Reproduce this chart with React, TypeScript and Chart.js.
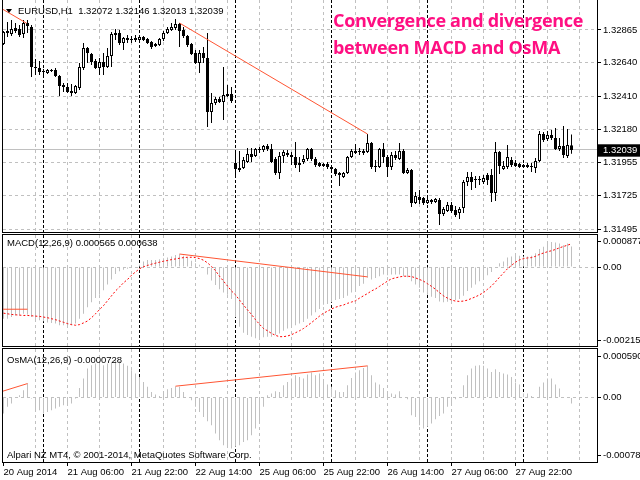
import React, { useEffect, useRef } from 'react';
import { Chart, registerables } from 'chart.js';

Chart.register(...registerables);

// ---------------- data (EURUSD H1, bar index 0..142) ----------------
const opens = [
  1.32769, 1.32858, 1.32837, 1.32879, 1.32872, 1.32837, 1.32913, 1.32886, 1.32610, 1.32603,
  1.32583, 1.32569, 1.32590, 1.32590, 1.32548, 1.32486, 1.32473, 1.32445, 1.32431, 1.32466,
  1.32603, 1.32741, 1.32700, 1.32652, 1.32603, 1.32645, 1.32610, 1.32686, 1.32844, 1.32844,
  1.32776, 1.32810, 1.32803, 1.32796, 1.32796, 1.32817, 1.32803, 1.32782, 1.32755, 1.32762,
  1.32803, 1.32844, 1.32865, 1.32879, 1.32906, 1.32865, 1.32824, 1.32769, 1.32707, 1.32638,
  1.32707, 1.32672, 1.32301, 1.32362, 1.32390, 1.32369, 1.32424, 1.32424, 1.31949, 1.31901,
  1.31915, 1.31956, 1.32011, 1.31998, 1.32039, 1.32039, 1.32066, 1.32046, 1.31977, 1.31881,
  1.31998, 1.32018, 1.32005, 1.31991, 1.31936, 1.31956, 1.31977, 1.32046, 1.31977, 1.31949,
  1.31929, 1.31943, 1.31922, 1.31908, 1.31881, 1.31853, 1.31881, 1.31991, 1.32032, 1.32032,
  1.32032, 1.32025, 1.32087, 1.31929, 1.31922, 1.32046, 1.31991, 1.31922, 1.32005, 1.31977,
  1.32032, 1.31881, 1.31901, 1.31674, 1.31715, 1.31709, 1.31674, 1.31695, 1.31681, 1.31695,
  1.31598, 1.31619, 1.31660, 1.31626, 1.31605, 1.31640, 1.31819, 1.31853, 1.31839, 1.31832,
  1.31819, 1.31867, 1.31867, 1.31743, 1.32025, 1.31908, 1.31922, 1.31970, 1.31949, 1.31943,
  1.31922, 1.31936, 1.31929, 1.31915, 1.31963, 1.32149, 1.32115, 1.32142, 1.32122, 1.32046,
  1.32066, 1.31998, 1.32072,
];
const highs = [
  1.32858, 1.32920, 1.32934, 1.32913, 1.32899, 1.32934, 1.32934, 1.32899, 1.32665, 1.32652,
  1.32597, 1.32597, 1.32597, 1.32603, 1.32555, 1.32500, 1.32500, 1.32493, 1.32486, 1.32638,
  1.32776, 1.32748, 1.32707, 1.32665, 1.32672, 1.32707, 1.32741, 1.32851, 1.32872, 1.32865,
  1.32817, 1.32831, 1.32824, 1.32831, 1.32831, 1.32824, 1.32810, 1.32789, 1.32776, 1.32810,
  1.32858, 1.32886, 1.32913, 1.32941, 1.32913, 1.32886, 1.32831, 1.32776, 1.32727, 1.32727,
  1.32748, 1.32844, 1.32431, 1.32404, 1.32404, 1.32610, 1.32486, 1.32473, 1.32032, 1.32032,
  1.31991, 1.32053, 1.32053, 1.32053, 1.32060, 1.32073, 1.32080, 1.32080, 1.31991, 1.32025,
  1.32039, 1.32039, 1.32025, 1.32094, 1.31991, 1.32005, 1.32053, 1.32053, 1.31991, 1.31956,
  1.31949, 1.31956, 1.31936, 1.31915, 1.31888, 1.31888, 1.31998, 1.32046, 1.32080, 1.32053,
  1.32046, 1.32149, 1.32094, 1.31970, 1.32053, 1.32087, 1.32005, 1.32025, 1.32032, 1.32087,
  1.32046, 1.31915, 1.31908, 1.31750, 1.31764, 1.31715, 1.31722, 1.31702, 1.31709, 1.31709,
  1.31647, 1.31681, 1.31681, 1.31653, 1.31647, 1.31832, 1.31888, 1.31888, 1.31860, 1.31860,
  1.31867, 1.31881, 1.31908, 1.32094, 1.32032, 1.31963, 1.32073, 1.31991, 1.31970, 1.31949,
  1.31943, 1.31949, 1.31949, 1.31984, 1.32170, 1.32163, 1.32170, 1.32177, 1.32190, 1.32122,
  1.32204, 1.32183, 1.32146,
];
const lows = [
  1.32762, 1.32817, 1.32824, 1.32844, 1.32817, 1.32810, 1.32844, 1.32541, 1.32555, 1.32555,
  1.32555, 1.32562, 1.32576, 1.32541, 1.32411, 1.32438, 1.32431, 1.32411, 1.32424, 1.32452,
  1.32590, 1.32638, 1.32624, 1.32597, 1.32555, 1.32555, 1.32603, 1.32610, 1.32796, 1.32762,
  1.32727, 1.32776, 1.32776, 1.32782, 1.32789, 1.32789, 1.32769, 1.32734, 1.32748, 1.32755,
  1.32789, 1.32837, 1.32858, 1.32865, 1.32748, 1.32810, 1.32748, 1.32693, 1.32631, 1.32569,
  1.32638, 1.32197, 1.32225, 1.32349, 1.32362, 1.32245, 1.32404, 1.32362, 1.31846, 1.31887,
  1.31908, 1.31949, 1.31956, 1.31991, 1.32018, 1.32025, 1.32032, 1.31949, 1.31867, 1.31839,
  1.31949, 1.31991, 1.31936, 1.31915, 1.31888, 1.31943, 1.31963, 1.31963, 1.31922, 1.31922,
  1.31922, 1.31908, 1.31888, 1.31860, 1.31791, 1.31846, 1.31874, 1.31984, 1.32011, 1.32005,
  1.32005, 1.32018, 1.31908, 1.31888, 1.31915, 1.31949, 1.31853, 1.31901, 1.31970, 1.31970,
  1.31874, 1.31874, 1.31647, 1.31667, 1.31667, 1.31660, 1.31667, 1.31667, 1.31674, 1.31523,
  1.31585, 1.31612, 1.31605, 1.31578, 1.31564, 1.31605, 1.31791, 1.31764, 1.31777, 1.31798,
  1.31805, 1.31798, 1.31681, 1.31688, 1.31874, 1.31901, 1.31908, 1.31922, 1.31922, 1.31915,
  1.31915, 1.31915, 1.31888, 1.31881, 1.31956, 1.32094, 1.32101, 1.32108, 1.32039, 1.32032,
  1.31984, 1.31984, 1.32013,
];
const closes = [
  1.32851, 1.32844, 1.32872, 1.32858, 1.32831, 1.32913, 1.32893, 1.32610, 1.32603, 1.32576,
  1.32576, 1.32590, 1.32583, 1.32548, 1.32480, 1.32473, 1.32438, 1.32431, 1.32480, 1.32610,
  1.32741, 1.32707, 1.32645, 1.32603, 1.32645, 1.32610, 1.32686, 1.32837, 1.32831, 1.32776,
  1.32810, 1.32796, 1.32796, 1.32810, 1.32817, 1.32796, 1.32776, 1.32748, 1.32769, 1.32803,
  1.32844, 1.32872, 1.32886, 1.32906, 1.32858, 1.32824, 1.32762, 1.32700, 1.32638, 1.32707,
  1.32672, 1.32301, 1.32362, 1.32390, 1.32369, 1.32418, 1.32411, 1.32376, 1.31908, 1.31915,
  1.31970, 1.32011, 1.31991, 1.32046, 1.32046, 1.32066, 1.32046, 1.31956, 1.31881, 1.31998,
  1.32025, 1.32005, 1.31991, 1.31936, 1.31949, 1.31977, 1.32046, 1.31977, 1.31936, 1.31929,
  1.31943, 1.31922, 1.31908, 1.31874, 1.31867, 1.31881, 1.31991, 1.32032, 1.32018, 1.32025,
  1.32018, 1.32087, 1.31922, 1.31922, 1.32046, 1.31991, 1.31922, 1.32005, 1.31984, 1.32032,
  1.31881, 1.31901, 1.31674, 1.31722, 1.31695, 1.31674, 1.31695, 1.31681, 1.31702, 1.31598,
  1.31633, 1.31660, 1.31619, 1.31592, 1.31633, 1.31819, 1.31853, 1.31819, 1.31832, 1.31839,
  1.31846, 1.31832, 1.31743, 1.32025, 1.31929, 1.31929, 1.31991, 1.31936, 1.31929, 1.31922,
  1.31936, 1.31922, 1.31922, 1.31963, 1.32149, 1.32108, 1.32142, 1.32122, 1.32046, 1.32066,
  1.32005, 1.32073, 1.32039,
];

const macdMain = [
  -0.001411, -0.001411, -0.001366, -0.001322, -0.001322, -0.001277, -0.001295, -0.001366, -0.001438, -0.001456,
  -0.001482, -0.001518, -0.001527, -0.001545, -0.001590, -0.001590, -0.001590, -0.001590, -0.001545, -0.001411,
  -0.001277, -0.001098, -0.000964, -0.000848, -0.000759, -0.000634, -0.000473, -0.000339, -0.000188, -0.000116,
  -0.000071, -0.000045, -0.000027, -0.000009, 0.000063, 0.000152, 0.000196, 0.000196, 0.000196, 0.000214,
  0.000241, 0.000259, 0.000286, 0.000330, 0.000348, 0.000313, 0.000259, 0.000170, 0.000107, 0.000063,
  -0.000027, -0.000205, -0.000366, -0.000491, -0.000607, -0.000697, -0.000759, -0.000875, -0.001366, -0.001634,
  -0.001795, -0.001857, -0.001902, -0.001947, -0.001947, -0.001920, -0.001902, -0.001902, -0.001857, -0.001813,
  -0.001741, -0.001679, -0.001616, -0.001590, -0.001545, -0.001500, -0.001411, -0.001322, -0.001232, -0.001143,
  -0.001027, -0.001009, -0.000964, -0.000902, -0.000875, -0.000848, -0.000786, -0.000697, -0.000607, -0.000518,
  -0.000455, -0.000290, -0.000339, -0.000295, -0.000250, -0.000205, -0.000223, -0.000205, -0.000205, -0.000205,
  -0.000250, -0.000277, -0.000384, -0.000473, -0.000563, -0.000697, -0.000759, -0.000813, -0.000848, -0.000938,
  -0.000964, -0.000947, -0.000920, -0.000902, -0.000875, -0.000786, -0.000652, -0.000563, -0.000473, -0.000384,
  -0.000313, -0.000223, -0.000134, -0.000009, 0.000107, 0.000152, 0.000259, 0.000286, 0.000313, 0.000313,
  0.000286, 0.000286, 0.000313, 0.000375, 0.000491, 0.000554, 0.000643, 0.000688, 0.000670, 0.000643,
  0.000598, 0.000643, 0.000565,
];
const macdSignal = [
  -0.001259, -0.001277, -0.001295, -0.001304, -0.001313, -0.001322, -0.001322, -0.001331, -0.001340, -0.001348,
  -0.001366, -0.001384, -0.001411, -0.001438, -0.001473, -0.001509, -0.001545, -0.001572, -0.001590, -0.001572,
  -0.001527, -0.001473, -0.001384, -0.001277, -0.001161, -0.001054, -0.000920, -0.000786, -0.000652, -0.000545,
  -0.000429, -0.000339, -0.000223, -0.000134, -0.000045, 0.000009, 0.000045, 0.000080, 0.000107, 0.000134,
  0.000161, 0.000179, 0.000205, 0.000223, 0.000241, 0.000259, 0.000268, 0.000268, 0.000259, 0.000232,
  0.000188, 0.000116, 0.000018, -0.000098, -0.000250, -0.000384, -0.000518, -0.000652, -0.000759, -0.000902,
  -0.001036, -0.001170, -0.001295, -0.001438, -0.001563, -0.001679, -0.001741, -0.001813, -0.001866, -0.001902,
  -0.001902, -0.001884, -0.001849, -0.001795, -0.001741, -0.001679, -0.001598, -0.001518, -0.001429, -0.001340,
  -0.001259, -0.001206, -0.001143, -0.001098, -0.001063, -0.001036, -0.000991, -0.000956, -0.000920, -0.000848,
  -0.000786, -0.000723, -0.000652, -0.000598, -0.000527, -0.000455, -0.000384, -0.000321, -0.000295, -0.000268,
  -0.000250, -0.000250, -0.000259, -0.000295, -0.000339, -0.000384, -0.000455, -0.000527, -0.000607, -0.000697,
  -0.000786, -0.000848, -0.000902, -0.000929, -0.000938, -0.000929, -0.000902, -0.000857, -0.000813, -0.000759,
  -0.000697, -0.000607, -0.000518, -0.000402, -0.000277, -0.000161, -0.000045, 0.000045, 0.000134, 0.000196,
  0.000232, 0.000250, 0.000259, 0.000295, 0.000348, 0.000384, 0.000420, 0.000447, 0.000482, 0.000527,
  0.000563, 0.000598, 0.000638,
];
const osmaValues = [
  -0.000194, -0.000113, -0.000073, -0.000004, 0.000028, 0.000089, 0.000170, -0.000012, -0.000174, -0.000154,
  -0.000194, -0.000174, -0.000154, -0.000134, -0.000113, -0.000093, -0.000085, -0.000073, -0.000012, 0.000117,
  0.000231, 0.000352, 0.000393, 0.000413, 0.000413, 0.000393, 0.000413, 0.000433, 0.000454, 0.000441,
  0.000413, 0.000385, 0.000332, 0.000292, 0.000251, 0.000190, 0.000130, 0.000069, 0.000036, 0.000020,
  0.000069, 0.000101, 0.000117, 0.000134, 0.000130, 0.000069, 0.000008, -0.000032, -0.000113, -0.000174,
  -0.000235, -0.000288, -0.000336, -0.000437, -0.000518, -0.000579, -0.000599, -0.000620, -0.000599, -0.000579,
  -0.000539, -0.000518, -0.000458, -0.000377, -0.000316, -0.000113, 0.000028, 0.000049, 0.000077, 0.000069,
  0.000150, 0.000190, 0.000231, 0.000271, 0.000251, 0.000231, 0.000279, 0.000304, 0.000271, 0.000292,
  0.000211, 0.000158, 0.000130, 0.000089, 0.000069, 0.000069, 0.000150, 0.000239, 0.000304, 0.000332,
  0.000360, 0.000385, 0.000271, 0.000182, 0.000158, 0.000117, 0.000069, 0.000049, 0.000036, 0.000077,
  0.000008, -0.000020, -0.000215, -0.000235, -0.000336, -0.000377, -0.000356, -0.000316, -0.000263, -0.000223,
  -0.000194, -0.000113, -0.000073, -0.000020, -0.000004, 0.000150, 0.000271, 0.000352, 0.000385, 0.000393,
  0.000385, 0.000352, 0.000312, 0.000344, 0.000312, 0.000292, 0.000279, 0.000251, 0.000182, 0.000158,
  0.000049, 0.000049, 0.000020, 0.000008, 0.000130, 0.000182, 0.000231, 0.000231, 0.000158, 0.000109,
  0.000008, -0.000004, -0.0000728,
];

// axis ticks and labels
const priceTickValues = [1.32865, 1.3264, 1.3241, 1.3218, 1.31955, 1.31725, 1.31495];
const priceTickLabels = ['1.32865', '1.32640', '1.32410', '1.32180', '1.31955', '1.31725', '1.31495'];
const lastPrice = 1.32039;
const lastPriceLabel = '1.32039';
const macdTickValues = [0.000877, 0, -0.002157];
const macdTickLabels = ['0.000877', '0.00', '-0.002157'];
const osmaTickValues = [0.00059, 0, -0.000783];
const osmaTickLabels = ['0.000590', '0.00', '-0.000783'];
const timeTickBars = [0, 16, 32, 48, 64, 80, 96, 112, 128];
const timeTickLabels = [
  '20 Aug 2014', '21 Aug 06:00', '21 Aug 22:00', '22 Aug 14:00', '25 Aug 06:00',
  '25 Aug 22:00', '26 Aug 14:00', '27 Aug 06:00', '27 Aug 22:00',
];
const gridBars = [8, 16, 24, 32, 40, 48, 56, 64, 72, 80, 88, 96, 104, 112, 120, 128, 136, 144];
const daySeparatorBars = [10, 34, 58, 82, 106, 130];

// trend lines: [bar index, value]
const priceTrendA = [[-0.2, 1.33008], [5.8, 1.32911]];
const priceTrendB = [[44, 1.32913], [91, 1.32149]];
const macdTrendA = [[-0.2, -0.001152], [6, -0.001152]];
const macdTrendB = [[44, 0.000357], [91, -0.000268]];
const osmaTrendA = [[-0.2, 0.000077], [6, 0.00017]];
const osmaTrendB = [[43, 0.000138], [91, 0.000385]];

// ---------------- chart setup ----------------
const PRICE_MIN = 1.314744;
const PRICE_MAX = 1.330715;
const X_MIN = -0.125;
const X_MAX = 148.375;
const FONT = { family: 'Liberation Sans, Arial, sans-serif', size: 9.5 };
const GRID = '#c0c0c0';
const TREND = '#ff5533';
const CLEAR = 'rgba(0,0,0,0)';

const xTickBars = Array.from(new Set([0, ...gridBars, ...daySeparatorBars])).sort((a, b) => a - b);

function xScale(withLabels: boolean) {
  return {
    type: 'linear',
    position: 'bottom',
    min: X_MIN,
    max: X_MAX,
    offset: false,
    afterBuildTicks: (s: any) => { s.ticks = xTickBars.map((v) => ({ value: v })); },
    afterFit: (s: any) => { s.height = withLabels ? 18 : 0; s.paddingLeft = 0; s.paddingRight = 0; },
    border: {
      display: false,
      dash: (c: any) => (c.tick && daySeparatorBars.includes(c.tick.value) ? [3, 2] : [3, 3]),
    },
    grid: {
      offset: false,
      drawOnChartArea: true,
      drawTicks: withLabels,
      tickLength: 4,
      lineWidth: 1,
      color: (c: any) => {
        const v = c.tick ? c.tick.value : -1;
        if (daySeparatorBars.includes(v)) return '#000';
        if (gridBars.includes(v)) return GRID;
        return CLEAR;
      },
      tickColor: (c: any) => (c.tick && timeTickBars.includes(c.tick.value) ? '#000' : CLEAR),
      tickBorderDash: [],
    },
    ticks: {
      display: withLabels,
      autoSkip: false,
      maxRotation: 0,
      minRotation: 0,
      align: 'start',
      padding: 1,
      color: '#000',
      font: FONT,
      callback: (v: number) => {
        const k = timeTickBars.indexOf(v);
        return k >= 0 ? timeTickLabels[k] : '';
      },
    },
  };
}

function insetTicks(values: number[], min: number, max: number, s: any, insetPx: number) {
  const h = s.height && s.height > 20 ? s.height : 111;
  const pad = (insetPx * (max - min)) / h;
  return values.map((v) => ({ value: Math.min(max - pad, Math.max(min + pad, v)) }));
}

function indicatorY(min: number, max: number, values: number[], labels: string[], inset: number) {
  return {
    type: 'linear',
    position: 'right',
    min,
    max,
    beginAtZero: false,
    afterBuildTicks: (s: any) => { s.ticks = insetTicks(values, min, max, s, inset); },
    afterFit: (s: any) => { s.width = 43; s.paddingTop = 0; s.paddingBottom = 0; },
    border: { display: false, dash: [3, 3] },
    grid: {
      lineWidth: 1,
      drawTicks: true,
      tickLength: 4,
      tickColor: '#000',
      tickBorderDash: [],
      color: (c: any) => (c.tick && c.tick.value === 0 ? GRID : CLEAR),
    },
    ticks: {
      autoSkip: false,
      padding: 2,
      color: '#000',
      font: FONT,
      callback: (_v: number, i: number) => labels[i],
    },
  };
}

function framePlugin(withTop: boolean) {
  return {
    id: 'panelFrame',
    afterDraw(chart: any) {
      const { ctx, chartArea: a } = chart;
      const l = a.left - 0.5;
      const r = a.right + 0.5;
      const t = a.top - 0.5;
      const b = a.bottom + 0.5;
      ctx.save();
      ctx.setLineDash([]);
      ctx.strokeStyle = '#000';
      ctx.lineWidth = 1;
      ctx.beginPath();
      const t0 = withTop ? t - 0.5 : 0;
      ctx.moveTo(l, t0); ctx.lineTo(l, b + 0.5);
      ctx.moveTo(r, t0); ctx.lineTo(r, b + 0.5);
      ctx.moveTo(l - 0.5, b); ctx.lineTo(r + 0.5, b);
      if (withTop) { ctx.moveTo(l - 0.5, t); ctx.lineTo(r + 0.5, t); }
      ctx.stroke();
      ctx.restore();
    },
  };
}

function trendDataset(points: number[][], yAxisID: string) {
  return {
    type: 'line',
    data: points.map(([x, y]) => ({ x, y })),
    borderColor: TREND,
    borderWidth: 1,
    pointRadius: 0,
    fill: false,
    tension: 0,
    order: 0,
    yAxisID,
  };
}

const baseOptions = {
  animation: false,
  responsive: false,
  maintainAspectRatio: false,
  devicePixelRatio: 1,
  events: [],
  plugins: { legend: { display: false }, tooltip: { enabled: false }, title: { display: false } },
};

function mainConfig(): any {
  const ticksAll = [...priceTickValues, lastPrice];
  const labelsAll = [...priceTickLabels, lastPriceLabel];
  return {
    type: 'bar',
    data: {
      datasets: [
        trendDataset(priceTrendA, 'y'),
        trendDataset(priceTrendB, 'y'),
        {
          type: 'bar',
          data: opens.map((o, i) => ({ x: i, y: [o, closes[i]] })),
          backgroundColor: opens.map((o, i) => (closes[i] >= o ? '#ffffff' : '#000000')),
          borderColor: '#000',
          borderWidth: 1,
          borderSkipped: false,
          barThickness: 3,
          minBarLength: 1,
          inflateAmount: 0,
          grouped: false,
          order: 1,
        },
        {
          type: 'bar',
          data: lows.map((l, i) => ({ x: i, y: [l, highs[i]] })),
          backgroundColor: '#000',
          borderWidth: 0,
          barThickness: 1,
          inflateAmount: 0,
          grouped: false,
          order: 2,
        },
      ],
    },
    options: {
      ...baseOptions,
      layout: { padding: { left: 3, right: 0, top: 0, bottom: 1 } },
      scales: {
        x: xScale(false),
        y: {
          type: 'linear',
          position: 'right',
          min: PRICE_MIN,
          max: PRICE_MAX,
          beginAtZero: false,
          afterBuildTicks: (s: any) => { s.ticks = ticksAll.map((v) => ({ value: v })); },
          afterFit: (s: any) => { s.width = 43; s.paddingTop = 0; s.paddingBottom = 0; },
          border: { display: false, dash: (c: any) => (c.tick && c.tick.value === lastPrice ? [] : [3, 3]) },
          grid: { color: GRID, lineWidth: 1, drawTicks: true, tickLength: 4, tickColor: '#000', tickBorderDash: [] },
          ticks: {
            autoSkip: false,
            padding: 2,
            font: FONT,
            color: (c: any) => (c.tick && c.tick.value === lastPrice ? '#fff' : '#000'),
            showLabelBackdrop: (c: any) => !!(c.tick && c.tick.value === lastPrice),
            backdropColor: '#000',
            backdropPadding: { left: 6, right: 4, top: 0, bottom: 1 },
            callback: (_v: number, i: number) => labelsAll[i],
          },
        },
      },
    },
    plugins: [framePlugin(false)],
  };
}

function macdConfig(): any {
  return {
    type: 'bar',
    data: {
      datasets: [
        trendDataset(macdTrendA, 'y'),
        trendDataset(macdTrendB, 'y'),
        {
          type: 'line',
          data: macdSignal.map((v, i) => ({ x: i, y: v })),
          borderColor: '#ff0000',
          borderWidth: 1,
          borderDash: [2, 2],
          pointRadius: 0,
          fill: false,
          tension: 0,
          order: 1,
        },
        {
          type: 'bar',
          data: macdMain.map((v, i) => ({ x: i, y: v })),
          backgroundColor: GRID,
          borderWidth: 0,
          barThickness: 1,
          inflateAmount: 0,
          grouped: false,
          order: 2,
        },
      ],
    },
    options: {
      ...baseOptions,
      layout: { padding: { left: 3, right: 0, top: 2, bottom: 1 } },
      scales: {
        x: xScale(false),
        y: indicatorY(macdTickValues[2], macdTickValues[0], macdTickValues, macdTickLabels, 6),
      },
    },
    plugins: [framePlugin(true)],
  };
}

function osmaConfig(): any {
  return {
    type: 'bar',
    data: {
      datasets: [
        trendDataset(osmaTrendA, 'y'),
        trendDataset(osmaTrendB, 'y'),
        {
          type: 'bar',
          data: osmaValues.map((v, i) => ({ x: i, y: v })),
          backgroundColor: GRID,
          borderWidth: 0,
          barThickness: 1,
          inflateAmount: 0,
          grouped: false,
          order: 2,
        },
      ],
    },
    options: {
      ...baseOptions,
      layout: { padding: { left: 3, right: 0, top: 2, bottom: 0 } },
      scales: {
        x: xScale(true),
        y: indicatorY(osmaTickValues[2], osmaTickValues[0], osmaTickValues, osmaTickLabels, 7),
      },
    },
    plugins: [framePlugin(true)],
  };
}

const textBase: React.CSSProperties = {
  position: 'absolute',
  fontFamily: 'Liberation Sans, Arial, sans-serif',
  fontSize: '9.5px',
  lineHeight: '11px',
  color: '#000',
  whiteSpace: 'pre',
  pointerEvents: 'none',
};

export default function App() {
  const mainRef = useRef<HTMLCanvasElement>(null);
  const macdRef = useRef<HTMLCanvasElement>(null);
  const osmaRef = useRef<HTMLCanvasElement>(null);

  useEffect(() => {
    Chart.defaults.font.family = 'Liberation Sans, Arial, sans-serif';
    const charts = [
      new Chart(mainRef.current as HTMLCanvasElement, mainConfig()),
      new Chart(macdRef.current as HTMLCanvasElement, macdConfig()),
      new Chart(osmaRef.current as HTMLCanvasElement, osmaConfig()),
    ];
    return () => charts.forEach((c) => c.destroy());
  }, []);

  return (
    <div style={{ position: 'fixed', left: 0, top: 0, width: 640, height: 480, background: '#fff', overflow: 'hidden' }}>
      <canvas ref={mainRef} width={640} height={233} style={{ position: 'absolute', left: 0, top: 0 }} />
      <canvas ref={macdRef} width={640} height={114} style={{ position: 'absolute', left: 0, top: 233 }} />
      <canvas ref={osmaRef} width={640} height={133} style={{ position: 'absolute', left: 0, top: 347 }} />

      <div style={{ position: 'absolute', left: 6, top: 9, width: 0, height: 0, borderLeft: '3px solid transparent', borderRight: '3px solid transparent', borderTop: '4px solid #000' }} />
      <div style={{ ...textBase, left: 18, top: 5 }}>{'EURUSD,H1  1.32072 1.32146 1.32013 1.32039'}</div>

      <div style={{ position: 'absolute', left: 333, top: 7, fontFamily: '"Open Sans", sans-serif', fontWeight: 700, fontSize: '18px', letterSpacing: '-0.3px', lineHeight: '26.5px', color: '#ff0f82', whiteSpace: 'pre' }}>
        {'Convergence and divergence\nbetween MACD and OsMA'}
      </div>

      <div style={{ ...textBase, left: 7, top: 237 }}>{'MACD(12,26,9) 0.000565 0.000638'}</div>
      <div style={{ ...textBase, left: 7, top: 354 }}>{'OsMA(12,26,9) -0.0000728'}</div>
      <div style={{ ...textBase, left: 7, top: 449 }}>{'Alpari NZ MT4, \u00a9 2001-2014, MetaQuotes Software Corp.'}</div>
    </div>
  );
}
